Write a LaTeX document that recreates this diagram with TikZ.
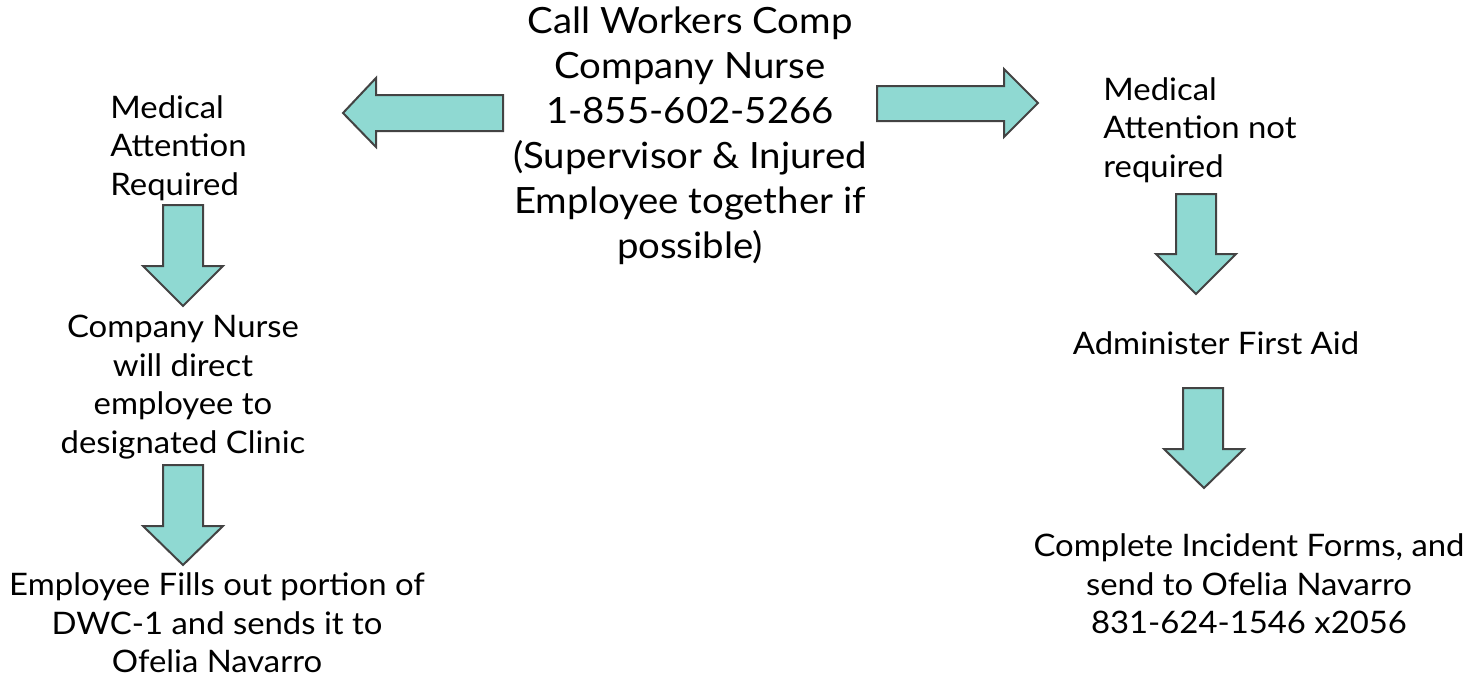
\documentclass[tikz,border=0pt]{standalone}
\usepackage{fontspec}
\setmainfont[FakeStretch=1.06]{Lato}
\definecolor{arrowfill}{HTML}{8FD9D2}
\definecolor{arrowline}{HTML}{434343}
\tikzset{
  blockarrow/.style={fill=arrowfill,draw=arrowline,line width=1pt,line join=miter},
  bigtext/.style={font=\fontsize{18.1}{22.5}\selectfont,inner sep=0pt,align=center},
  steptext/.style={font=\fontsize{15.5}{19.3}\selectfont,inner sep=0pt}
}
\begin{document}
\begin{tikzpicture}[x=0.5pt,y=-0.5pt]
\useasboundingbox (0,0) rectangle (1474,676);
% block arrows
\draw[blockarrow] (503,95) -- (376,95) -- (376,78) -- (343,113) -- (376,147) -- (376,131) -- (503,131) -- cycle;
\draw[blockarrow] (877,86) -- (1004,86) -- (1004,69) -- (1038,103) -- (1004,137) -- (1004,121) -- (877,121) -- cycle;
\draw[blockarrow] (163,205) -- (203,205) -- (203,266) -- (223,266) -- (183,306) -- (143,266) -- (163,266) -- cycle;
\draw[blockarrow] (163,465) -- (203,465) -- (203,526) -- (223,526) -- (183,565) -- (143,526) -- (163,526) -- cycle;
\draw[blockarrow] (1176,194) -- (1216,194) -- (1216,254) -- (1236,254) -- (1196,294) -- (1156,254) -- (1176,254) -- cycle;
\draw[blockarrow] (1183,388) -- (1223,388) -- (1223,449) -- (1244,449) -- (1204,488) -- (1164,449) -- (1183,449) -- cycle;
% texts
\node[bigtext] (call) at (690,136) {Call Workers Comp\\Company Nurse\\1-855-602-5266\\(Supervisor \& Injured\\Employee together if\\possible)};
\node[steptext,anchor=west,align=left] (medreq) at (110,148) {Medical\\Attention\\Required};
\node[steptext,anchor=west,align=left] (mednot) at (1103,130) {Medical\\Attention not\\required};
\node[steptext,align=center] (nurse) at (183,387) {Company Nurse\\will direct\\employee to\\designated Clinic};
\node[steptext,align=center] (fills) at (217,623) {Employee Fills out portion of\\DWC-1 and sends it to\\Ofelia Navarro};
\node[steptext,align=center] (firstaid) at (1216,343) {Administer First Aid};
\node[steptext,align=center] (forms) at (1249,584) {Complete Incident Forms, and\\send to Ofelia Navarro\\831-624-1546 x2056};
\end{tikzpicture}
\end{document}
